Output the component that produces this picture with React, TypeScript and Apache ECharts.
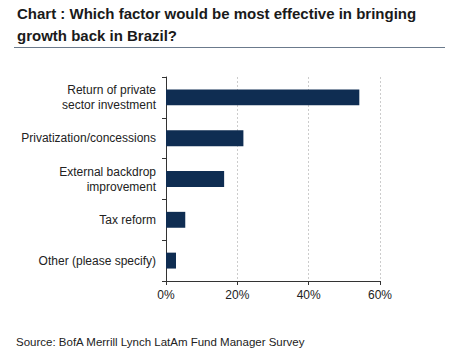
import React, { useEffect, useRef } from "react";
import * as echarts from "echarts";

const categories = [
  "Return of private\nsector investment",
  "Privatization/concessions",
  "External backdrop\nimprovement",
  "Tax reform",
  "Other (please specify)",
];
const values = [54.2, 21.7, 16.3, 5.4, 2.8];
const xTicks = [0, 20, 40, 60];
const titleText = "Chart : Which factor would be most effective in bringing\ngrowth back in Brazil?";
const sourceText = "Source: BofA Merrill Lynch LatAm Fund Manager Survey";

export default function App() {
  const ref = useRef<HTMLDivElement>(null);
  useEffect(() => {
    if (!ref.current) return;
    const chart = echarts.init(ref.current, null, { renderer: "svg" });
    chart.setOption({
      animation: false,
      backgroundColor: "#fff",
      textStyle: { fontFamily: "Liberation Sans, Arial, sans-serif" },
      grid: { left: 166, right: 81, top: 77, bottom: 72, containLabel: false },
      xAxis: {
        type: "value",
        min: xTicks[0],
        max: xTicks[xTicks.length - 1],
        interval: 20,
        axisLine: { show: true, lineStyle: { color: "#333", width: 1 } },
        axisTick: { show: true, length: 4, lineStyle: { color: "#333" } },
        axisLabel: {
          color: "#222",
          fontSize: 12,
          margin: 8,
          formatter: (v: number) => v + "%",
        },
        splitLine: { show: true, lineStyle: { color: "#ccc", type: [2, 2] } },
      },
      yAxis: {
        type: "category",
        data: categories,
        inverse: true,
        axisLine: { show: true, lineStyle: { color: "#333", width: 1 } },
        axisTick: { show: true, length: 4, lineStyle: { color: "#333" } },
        axisLabel: { color: "#222", fontSize: 12, lineHeight: 15, margin: 10 },
      },
      series: [
        {
          type: "bar",
          data: values,
          barWidth: "39%",
          itemStyle: { color: "#0f2d52" },
        },
      ],
      graphic: [
        {
          type: "text",
          left: 17,
          top: 2,
          style: {
            text: titleText,
            font: "bold 15px Liberation Sans, Arial, sans-serif",
            fill: "#1a1a1a",
            lineHeight: 22,
          },
        },
        {
          type: "line",
          shape: { x1: 14, y1: 47.5, x2: 445, y2: 47.5 },
          style: { stroke: "#6b7a8c", lineWidth: 1 },
        },
        {
          type: "text",
          left: 16,
          top: 336,
          style: {
            text: sourceText,
            font: "11.5px Liberation Sans, Arial, sans-serif",
            fill: "#222",
          },
        },
      ],
    });
    return () => chart.dispose();
  }, []);
  return <div ref={ref} style={{ width: 461, height: 353, position: "absolute", left: 0, top: 0 }} />;
}
